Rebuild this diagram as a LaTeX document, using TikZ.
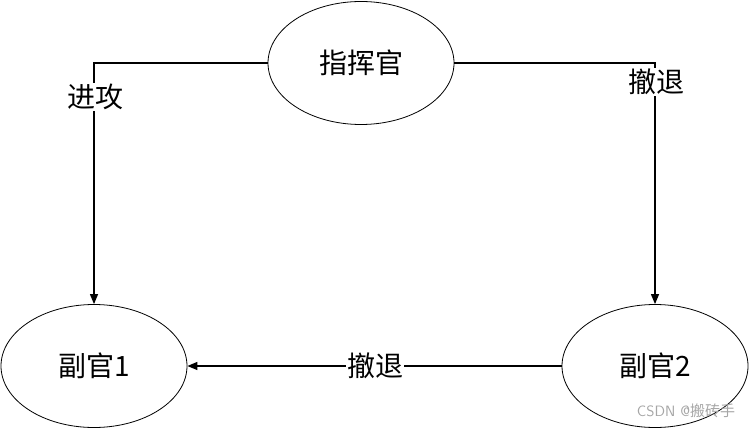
\documentclass[tikz,border=0pt]{standalone}
\usepackage{fontspec}
\newfontfamily\cjk{Noto Sans CJK SC}
\usetikzlibrary{shapes.geometric,arrows.meta}

\tikzset{
  roleellipse/.style={ellipse, draw, line width=0.8pt, minimum width=186pt, minimum height=123pt, inner sep=0pt, font=\cjk\fontsize{28}{32}\selectfont},
  cmdlabel/.style={fill=white, inner sep=1pt, font=\cjk\fontsize{28}{32}\selectfont},
  cmdarrow/.style={line width=1.2pt, -{Triangle[length=10pt,width=8pt]}},
}

\begin{document}
\begin{tikzpicture}[x=1pt, y=-1pt]

  %% ==== 三个角色 ====
  \node[roleellipse] (commander) at (361,63) {指挥官};
  \node[roleellipse] (vice1) at (94,366) {副官1};
  \node[roleellipse] (vice2) at (655,366) {副官2};

  %% ==== 命令连线 ====
  \draw[cmdarrow] (commander.west) -| (vice1.north);
  \draw[cmdarrow] (commander.east) -| (vice2.north);
  \draw[cmdarrow] (vice2.west) -- (vice1.east);

  %% ==== 标签（白底盖住连线）====
  \node[cmdlabel] (attack) at (95,97) {进攻};
  \node[cmdlabel] (retreat1) at (656,82) {撤退};
  \node[cmdlabel] (retreat2) at (375,366) {撤退};

  %% 水印
  \node[text=gray!70, font=\fontsize{15}{18}\selectfont\sffamily] (mark) at (686,411) {CSDN @\cjk 搬砖手};

  \pgfresetboundingbox
  \path[use as bounding box] (0,0) rectangle (751,430);
\end{tikzpicture}
\end{document}
